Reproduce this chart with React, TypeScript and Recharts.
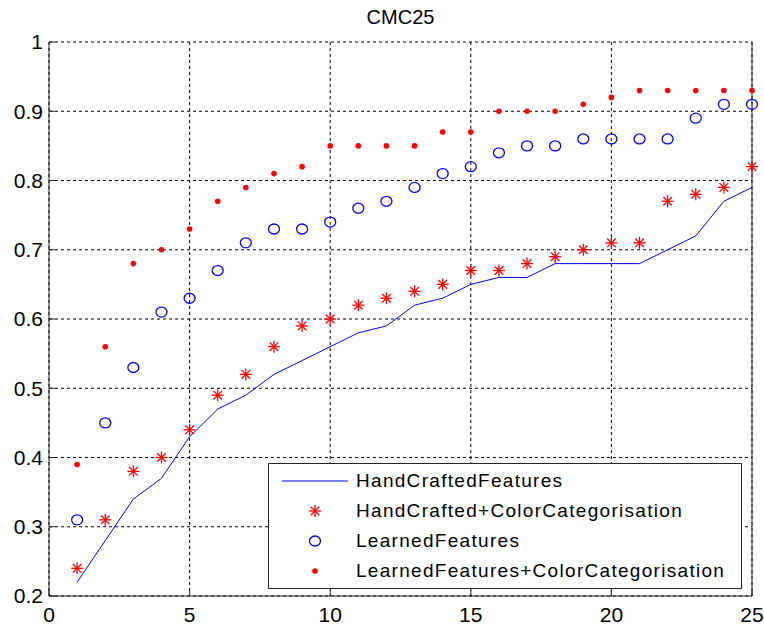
import React from 'react';
import { ComposedChart, Line, XAxis, YAxis, CartesianGrid } from 'recharts';

const ranks = [1, 2, 3, 4, 5, 6, 7, 8, 9, 10, 11, 12, 13, 14, 15, 16, 17, 18, 19, 20, 21, 22, 23, 24, 25];
const handCrafted = [0.22, 0.28, 0.34, 0.37, 0.43, 0.47, 0.49, 0.52, 0.54, 0.56, 0.58, 0.59, 0.62, 0.63, 0.65, 0.66, 0.66, 0.68, 0.68, 0.68, 0.68, 0.70, 0.72, 0.77, 0.79];
const handCraftedColor = [0.24, 0.31, 0.38, 0.40, 0.44, 0.49, 0.52, 0.56, 0.59, 0.60, 0.62, 0.63, 0.64, 0.65, 0.67, 0.67, 0.68, 0.69, 0.70, 0.71, 0.71, 0.77, 0.78, 0.79, 0.82];
const learned = [0.31, 0.45, 0.53, 0.61, 0.63, 0.67, 0.71, 0.73, 0.73, 0.74, 0.76, 0.77, 0.79, 0.81, 0.82, 0.84, 0.85, 0.85, 0.86, 0.86, 0.86, 0.86, 0.89, 0.91, 0.91];
const learnedColor = [0.39, 0.56, 0.68, 0.70, 0.73, 0.77, 0.79, 0.81, 0.82, 0.85, 0.85, 0.85, 0.85, 0.87, 0.87, 0.90, 0.90, 0.90, 0.91, 0.92, 0.93, 0.93, 0.93, 0.93, 0.93];
const xTicks = [0, 5, 10, 15, 20, 25];
const yTicks = [0.2, 0.3, 0.4, 0.5, 0.6, 0.7, 0.8, 0.9, 1];
const legendLabels = [
  'HandCraftedFeatures',
  'HandCrafted+ColorCategorisation',
  'LearnedFeatures',
  'LearnedFeatures+ColorCategorisation',
];
const title = 'CMC25';

const data = ranks.map((r, i) => ({
  rank: r,
  hc: handCrafted[i],
  hcc: handCraftedColor[i],
  lf: learned[i],
  lfc: learnedColor[i],
}));

const RED = '#ff0000';
const BLUE = '#0000ff';
const FONT = '"Liberation Sans", Arial, Helvetica, sans-serif';

const Asterisk = ({ cx, cy }: { cx: number; cy: number }) => {
  const s = 6;
  const d = 4.3;
  return (
    <g stroke={RED} strokeWidth={1.3} fill="none">
      <line x1={cx - s} y1={cy} x2={cx + s} y2={cy} />
      <line x1={cx} y1={cy - s} x2={cx} y2={cy + s} />
      <line x1={cx - d} y1={cy - d} x2={cx + d} y2={cy + d} />
      <line x1={cx - d} y1={cy + d} x2={cx + d} y2={cy - d} />
    </g>
  );
};

const Ring = ({ cx, cy }: { cx: number; cy: number }) => (
  <ellipse cx={cx} cy={cy} rx={5.5} ry={5} stroke={BLUE} strokeWidth={1.3} fill="none" />
);

const Dot = ({ cx, cy }: { cx: number; cy: number }) => (
  <circle cx={cx} cy={cy} r={2.8} fill={RED} stroke="none" />
);

const renderAsterisk = (p: any) =>
  p.cx == null ? <g key={p.index} /> : <g key={p.index}><Asterisk cx={p.cx} cy={p.cy} /></g>;
const renderRing = (p: any) =>
  p.cx == null ? <g key={p.index} /> : <g key={p.index}><Ring cx={p.cx} cy={p.cy} /></g>;
const renderDot = (p: any) =>
  p.cx == null ? <g key={p.index} /> : <g key={p.index}><Dot cx={p.cx} cy={p.cy} /></g>;

const LegendSample = ({ idx }: { idx: number }) => (
  <svg width={86} height={30} style={{ display: 'block', flex: '0 0 auto' }}>
    {idx === 0 && <line x1={13} y1={15} x2={79} y2={15} stroke={BLUE} strokeWidth={1} />}
    {idx === 1 && <Asterisk cx={46} cy={15} />}
    {idx === 2 && <Ring cx={46} cy={15} />}
    {idx === 3 && <Dot cx={46} cy={15} />}
  </svg>
);

export default function App() {
  return (
    <div style={{ position: 'absolute', left: 0, top: 0, width: 764, height: 626, background: '#fff' }}>
      <ComposedChart
        width={764}
        height={626}
        data={data}
        margin={{ top: 42, right: 0, bottom: 0, left: 0 }}
      >
        <CartesianGrid stroke="#000" strokeDasharray="3 3" strokeWidth={1} />
        <XAxis
          dataKey="rank"
          type="number"
          domain={[0, 25]}
          ticks={xTicks}
          interval={0}
          height={30}
          tickSize={-6}
          tickMargin={17}
          axisLine={{ stroke: '#262626' }}
          tickLine={{ stroke: '#262626' }}
          tick={{ fontSize: 21, fill: '#000', fontFamily: FONT }}
        />
        <XAxis
          xAxisId="top"
          orientation="top"
          dataKey="rank"
          type="number"
          domain={[0, 25]}
          ticks={xTicks}
          interval={0}
          height={0}
          tickSize={-6}
          tick={false}
          axisLine={{ stroke: '#262626' }}
          tickLine={{ stroke: '#262626' }}
        />
        <YAxis
          type="number"
          domain={[0.2, 1]}
          ticks={yTicks}
          interval={0}
          width={49}
          tickSize={-6}
          tickMargin={12}
          axisLine={{ stroke: '#262626' }}
          tickLine={{ stroke: '#262626' }}
          tick={{ fontSize: 21, fill: '#000', fontFamily: FONT }}
        />
        <YAxis
          yAxisId="right"
          orientation="right"
          type="number"
          domain={[0.2, 1]}
          ticks={yTicks}
          interval={0}
          width={12}
          tickSize={-6}
          tick={false}
          axisLine={{ stroke: '#262626' }}
          tickLine={{ stroke: '#262626' }}
        />
        <Line
          dataKey="hc"
          type="linear"
          stroke={BLUE}
          strokeWidth={1}
          dot={false}
          activeDot={false}
          isAnimationActive={false}
        />
        <Line
          dataKey="hcc"
          stroke="none"
          strokeWidth={0}
          dot={renderAsterisk}
          activeDot={false}
          isAnimationActive={false}
        />
        <Line
          dataKey="lf"
          stroke="none"
          strokeWidth={0}
          dot={renderRing}
          activeDot={false}
          isAnimationActive={false}
        />
        <Line
          dataKey="lfc"
          stroke="none"
          strokeWidth={0}
          dot={renderDot}
          activeDot={false}
          isAnimationActive={false}
        />
      </ComposedChart>
      <div
        style={{
          position: 'absolute',
          left: 49,
          width: 703,
          top: 7,
          lineHeight: '20px',
          fontSize: 20,
          fontFamily: FONT,
          textAlign: 'center',
          color: '#000',
        }}
      >
        {title}
      </div>
      <div
        style={{
          position: 'absolute',
          left: 268,
          top: 463,
          width: 472,
          height: 122,
          border: '1px solid #262626',
          background: '#fff',
          paddingTop: 2,
          boxSizing: 'content-box',
          fontFamily: FONT,
          fontSize: 19,
          letterSpacing: 1.3,
          color: '#000',
        }}
      >
        {legendLabels.map((lab, i) => (
          <div key={lab} style={{ display: 'flex', alignItems: 'center', height: 30 }}>
            <LegendSample idx={i} />
            <span style={{ whiteSpace: 'nowrap', marginLeft: 1 }}>{lab}</span>
          </div>
        ))}
      </div>
    </div>
  );
}
